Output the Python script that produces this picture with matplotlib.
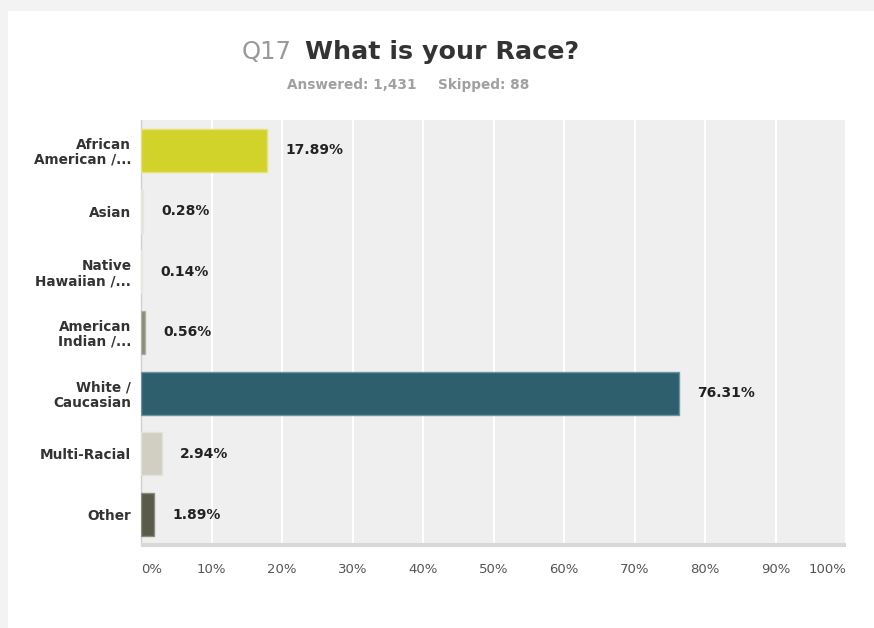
import matplotlib
matplotlib.use("Agg")
import matplotlib.pyplot as plt
from matplotlib.patches import Rectangle
from matplotlib.transforms import offset_copy

categories = ["African\nAmerican /...", "Asian", "Native\nHawaiian /...", "American\nIndian /...",
              "White /\nCaucasian", "Multi-Racial", "Other"]
values = [17.89, 0.28, 0.14, 0.56, 76.31, 2.94, 1.89]
value_labels = ["17.89%", "0.28%", "0.14%", "0.56%", "76.31%", "2.94%", "1.89%"]
colors = ["#d1d32a", "#dcdcd4", "#e2e2da", "#8a8a78", "#2e5f6d", "#d0cfc1", "#5a5a4a"]
edges = ["#e2e47a", "#e6e6e0", "#e8e8e2", "#b0b0a0", "#6c95a3", "#e3e2d8", "#8a8a7c"]
xticks = [0, 10, 20, 30, 40, 50, 60, 70, 80, 90, 100]
xtick_labels = ["0%", "10%", "20%", "30%", "40%", "50%", "60%", "70%", "80%", "90%", "100%"]

W, H = 874, 628
plt.rcParams["font.family"] = ["DejaVu Sans"]
fig = plt.figure(figsize=(W / 100, H / 100), dpi=100)
fig.patch.set_facecolor("white")

# card background with light shadow strips
bg = fig.add_axes([0, 0, 1, 1], zorder=-10)
bg.set_xlim(0, W); bg.set_ylim(H, 0); bg.axis("off")
bg.add_patch(Rectangle((0, 0), W, H, color="#f3f3f3", lw=0))
bg.add_patch(Rectangle((8, 11), W - 8, H - 11, color="white", lw=0))

left, right, top, bottom = 141, 846, 120, 545
ax = fig.add_axes([left / W, 1 - bottom / H, (right - left) / W, (bottom - top) / H])
ax.set_facecolor("#efefef")
ypos = list(range(len(categories)))
ax.barh(ypos, values, height=0.71, color=colors, edgecolor=edges, linewidth=1, zorder=3)
ax.set_xlim(0, 100)
ax.set_ylim(len(categories) - 0.5, -0.5)
ax.set_xticks(xticks)
ax.set_xticklabels(xtick_labels)
ax.grid(axis="x", color="white", linewidth=1.5, zorder=1)
ax.set_axisbelow(True)
for s in ["top", "right"]:
    ax.spines[s].set_visible(False)
ax.spines["left"].set_color("#d0d0d0")
ax.spines["left"].set_linewidth(1)
ax.spines["bottom"].set_color("#d8d8d8")
ax.spines["bottom"].set_linewidth(3)
ax.spines["bottom"].set_capstyle("butt")
ax.tick_params(axis="x", length=0, pad=13, labelsize=9.5, labelcolor="#555555")
ax.tick_params(axis="y", length=0, pad=7)
ax.set_yticks(ypos)
ax.set_yticklabels(categories, fontsize=9.8, fontweight="bold", color="#333333", linespacing=1.08)
tl = ax.get_xticklabels()
tl[0].set_ha("left")
tl[-1].set_ha("right")

trans = offset_copy(ax.transData, fig=fig, x=18, y=0, units="dots")
for y, v, lab in zip(ypos, values, value_labels):
    ax.text(v, y, lab, transform=trans, ha="left", va="center", fontsize=10,
            fontweight="bold", color="#222222")

# title
fig.text(292 / W, 1 - 59 / H, "Q17", ha="right", va="baseline", fontsize=17.5, color="#999999")
fig.text(305 / W, 1 - 59 / H, "What is your Race?", ha="left", va="baseline", fontsize=18.3,
         fontweight="bold", color="#333333")
fig.text(417 / W, 1 - 89 / H, "Answered: 1,431", ha="right", va="baseline", fontsize=9.8,
         fontweight="bold", color="#a0a0a0")
fig.text(438 / W, 1 - 89 / H, "Skipped: 88", ha="left", va="baseline", fontsize=9.8,
         fontweight="bold", color="#a0a0a0")

fig.savefig("out.png", dpi=100, facecolor=fig.get_facecolor())
